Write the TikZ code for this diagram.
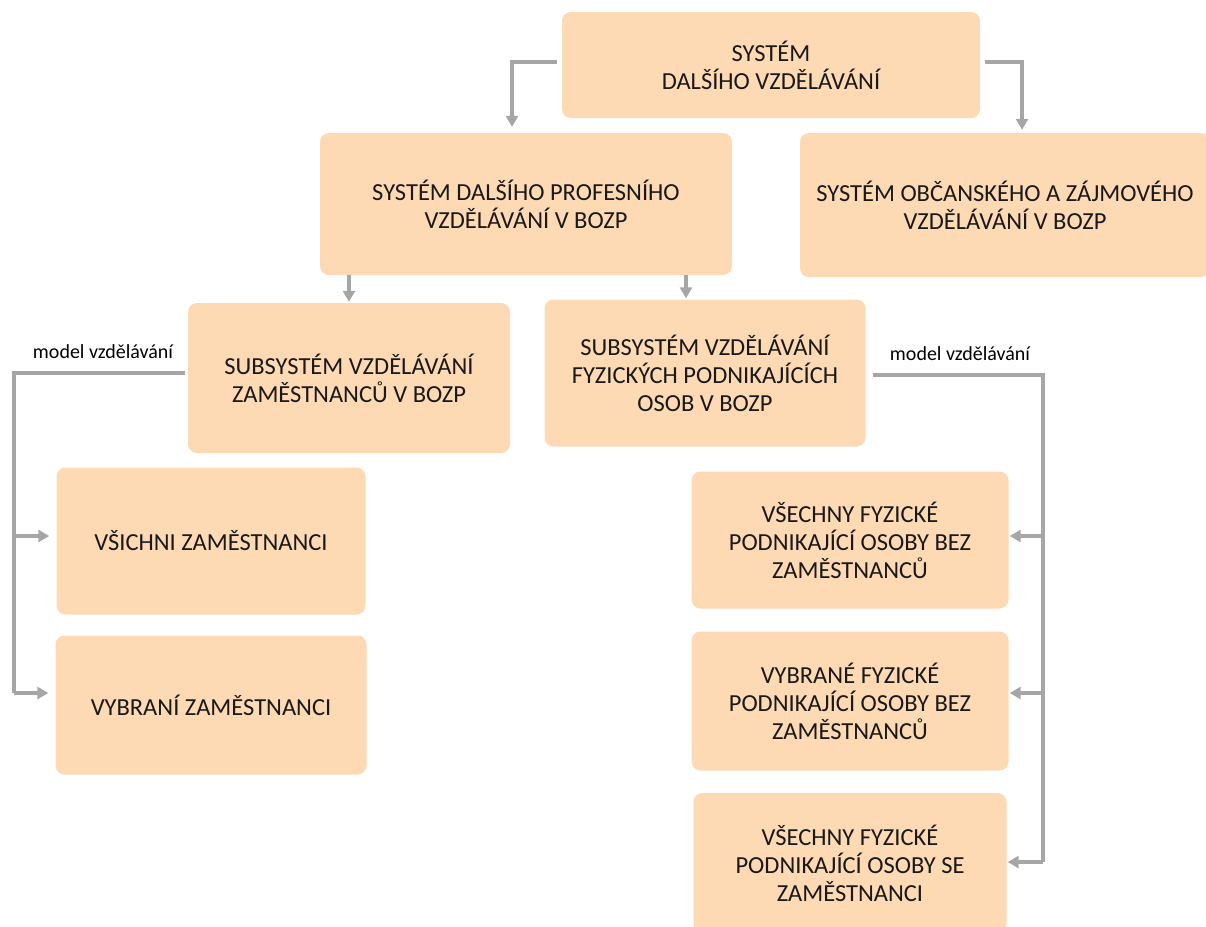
\documentclass[tikz,border=0pt]{standalone}
\usepackage{fontspec}
\setmainfont{Carlito}
\usetikzlibrary{arrows.meta,calc}
\definecolor{peach}{RGB}{253,217,180}
\definecolor{wiregray}{RGB}{166,166,166}
\tikzstyle{box}=[fill=peach,rounded corners=9pt,align=center,inner sep=0pt,text=black!90,font=\fontsize{24.5}{28}\selectfont]
\tikzstyle{lab}=[font=\fontsize{20}{24}\selectfont,inner sep=0pt]
\tikzstyle{wire}=[draw=wiregray,line width=3.2pt]
\tikzstyle{conn}=[wire,-{Triangle[length=11pt,width=12pt]}]

\begin{document}
\begin{tikzpicture}[x=1pt,y=-1pt]
     \useasboundingbox (0,0) rectangle (1206,926);
     \node [box,minimum width=418pt,minimum height=106pt] (sys) at (771,65) {SYSTÉM\\DALŠÍHO VZDĚLÁVÁNÍ};
     \node [box,minimum width=412pt,minimum height=142pt] (prof) at (526,204) {SYSTÉM DALŠÍHO PROFESNÍHO\\VZDĚLÁVÁNÍ V BOZP};
     \node [box,minimum width=410pt,minimum height=144pt] (obc) at (1005,205) {SYSTÉM OBČANSKÉHO A ZÁJMOVÉHO\\VZDĚLÁVÁNÍ V BOZP};
     \node [box,minimum width=322pt,minimum height=150pt] (subzam) at (349,378) {SUBSYSTÉM VZDĚLÁVÁNÍ\\ZAMĚSTNANCŮ V BOZP};
     \node [box,minimum width=321pt,minimum height=147pt] (subfyz) at (705,373) {SUBSYSTÉM VZDĚLÁVÁNÍ\\FYZICKÝCH PODNIKAJÍCÍCH\\OSOB V BOZP};
     \node [box,minimum width=309pt,minimum height=147pt] (vsichni) at (211,541) {VŠICHNI ZAMĚSTNANCI};
     \node [box,minimum width=311pt,minimum height=139pt,below of=vsichni,node distance=164pt] (vybrani) {VYBRANÍ ZAMĚSTNANCI};
     \node [box,minimum width=317pt,minimum height=137pt] (fyzbez) at (850,540) {VŠECHNY FYZICKÉ\\PODNIKAJÍCÍ OSOBY BEZ\\ZAMĚSTNANCŮ};
     \node [box,minimum width=317pt,minimum height=139pt,below of=fyzbez,node distance=161pt] (vybbez) {VYBRANÉ FYZICKÉ\\PODNIKAJÍCÍ OSOBY BEZ\\ZAMĚSTNANCŮ};
     \node [box,minimum width=313pt,minimum height=140pt,below of=vybbez,node distance=162pt] (fyzse) {VŠECHNY FYZICKÉ\\PODNIKAJÍCÍ OSOBY SE\\ZAMĚSTNANCI};

     \node [lab] (lmodel) at (103,352) {model vzdělávání};
     \node [lab] (rmodel) at (960,354) {model vzdělávání};

     % top level
     \draw [conn] ([xshift=-5pt,yshift=3pt]sys.west) -| ([xshift=-14pt,yshift=6pt]prof.north);
     \draw [conn] ([xshift=5pt,yshift=3pt]sys.east) -| ([xshift=17pt,yshift=3pt]obc.north);
     \draw [conn] (subzam.north |- prof.south) -- ([yshift=1pt]subzam.north);
     \draw [conn] ([xshift=-19pt]subfyz.north |- prof.south) -- ([xshift=-19pt,yshift=1pt]subfyz.north);

     % model vzdelavani, left
     \coordinate (l1) at (14,536);
     \coordinate (l2) at (14,693);
     \draw [wire] ([xshift=-3pt,yshift=5pt]subzam.west) -| (l2);
     \draw [conn,shorten >=7pt] (l1) -- (l1 -| vsichni.west);
     \draw [conn,shorten >=7pt] (l2) -- (l2 -| vybrani.west);

     % model vzdelavani, right
     \coordinate (r1) at (1043,536);
     \coordinate (r2) at (1043,693);
     \coordinate (r3) at (1043,862);
     \draw [wire] ([xshift=7pt,yshift=-2pt]subfyz.east) -| (r3);
     \draw [conn,shorten >=1pt] (r1) -- (r1 -| fyzbez.east);
     \draw [conn,shorten >=1pt] (r2) -- (r2 -| vybbez.east);
     \draw [conn,shorten >=1pt] (r3) -- (r3 -| fyzse.east);
\end{tikzpicture}
\end{document}
